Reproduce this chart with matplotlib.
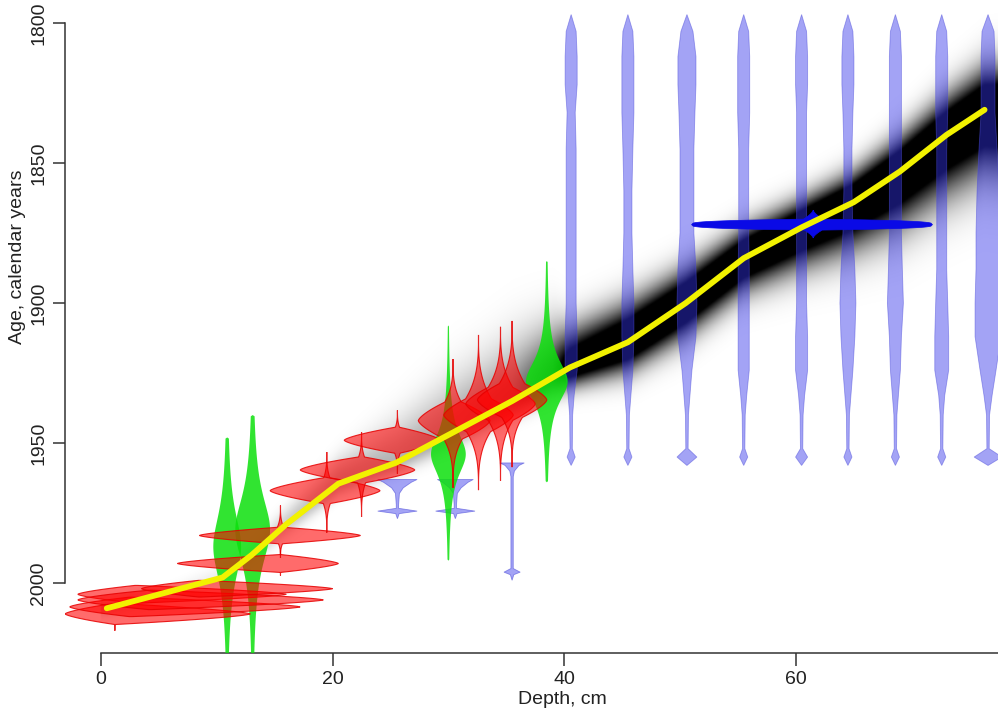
import matplotlib
matplotlib.use("Agg")
import matplotlib.pyplot as plt
import numpy as np
from matplotlib.patches import Polygon, Rectangle

plt.rcParams['font.family'] = ['Liberation Sans', 'DejaVu Sans']

# mean age-depth model (yellow line)
model_depth = [0.5, 10.5, 13, 16, 20.5, 25.5, 30.5, 35.5, 40.5, 45.5, 50.5, 55.5, 60.5, 65, 69, 73, 76.3]
model_age = [2009, 1998, 1990, 1979, 1964.5, 1957, 1946, 1935, 1923, 1914, 1900, 1884, 1873, 1864, 1853, 1840, 1831]

# spread of the model cloud (years, older side / younger side) and its darkness
cloud_depth = [0, 2, 6, 10.5, 16, 20.5, 25.5, 30.5, 35.5, 39, 40.5, 45.5, 50.5, 55.5, 60.5, 65, 69, 73, 77.5]
cloud_sd_old = [2, 2, 2, 3, 4, 6, 10, 13, 14, 12, 9, 9, 8, 7, 6.5, 7, 8, 9, 10]
cloud_sd_young = [2, 2, 2, 2, 3, 3, 3, 4, 4, 4.5, 5, 7, 8, 8, 9.5, 11, 13, 14, 15]
cloud_shade = [0.2, 0.15, 0.03, 0.08, 0.2, 0.3, 0.3, 0.35, 0.45, 0.8, 1.3, 1.5, 1.5, 1.5, 1.5, 1.5, 1.5, 1.5, 1.5]

# red dates: centre depth/age, arm lengths (cm), arm thickness, spike up/down (yr), spike width (cm)
red_depth = [1.2, 2.5, 3.0, 4.2, 8.5, 15.5, 15.5, 19.5, 22.5, 25.6, 30.4, 32.6, 34.5, 35.5]
red_age = [2011, 2008.5, 2004, 2006, 2002, 1993, 1983, 1967, 1959.6, 1949, 1942, 1940, 1936, 1934.6]
red_left = [4.3, 5.2, 5.0, 6.2, 5.0, 8.9, 7.0, 4.9, 5.3, 4.6, 3.0, 3.0, 3.0, 3.0]
red_right = [11.7, 14.7, 13.0, 15.0, 11.5, 5.0, 6.9, 4.6, 4.6, 3.7, 3.2, 3.0, 3.0, 3.0]
red_thick = [3.8, 3.5, 3.2, 3.5, 3.0, 3.2, 3.0, 4.8, 4.8, 4.8, 8.0, 8.0, 8.0, 8.0]
red_up = [3.5, 3.5, 3.2, 3.5, 3.0, 4.6, 10.7, 13.8, 13.5, 10.7, 22, 28.6, 27.5, 28.2]
red_down = [6, 3.5, 3.2, 3.5, 3.0, 4.3, 8, 15, 16.8, 12, 24, 26.8, 27.5, 24]
red_spike = [0.6, 0.6, 0.6, 0.6, 0.6, 0.7, 0.7, 0.9, 0.9, 1.0, 2.1, 2.2, 2.2, 2.2]

# green dates: depth, peak age, half width (cm), spread, top and bottom age
green_depth = [10.9, 13.1, 30.0, 38.5]
green_peak = [1987, 1981, 1954, 1928]
green_width = [1.2, 1.5, 1.5, 1.8]
green_spread = [16, 16, 10, 10]
green_top = [1948, 1940, 1908, 1885]
green_bottom = [2030, 2030, 1992, 1964]

# light blue (post-bomb) calibrated dates, shared age grid, half widths in cm
blue_depth = [40.6, 45.5, 50.6, 55.5, 60.5, 64.5, 68.6, 72.6, 76.6]
blue_ages = [1797, 1803, 1812, 1822, 1832, 1845, 1860, 1875, 1888, 1900, 1912, 1924, 1933, 1940, 1952, 1955, 1958]
blue_width = [
    [0, 0.43, 0.52, 0.52, 0.35, 0.43, 0.43, 0.43, 0.43, 0.43, 0.52, 0.52, 0.26, 0.13, 0.1, 0.35, 0],
    [0, 0.43, 0.52, 0.52, 0.52, 0.43, 0.35, 0.35, 0.43, 0.52, 0.52, 0.43, 0.26, 0.13, 0.1, 0.35, 0],
    [0, 0.52, 0.78, 0.78, 0.69, 0.6, 0.6, 0.6, 0.78, 0.86, 0.78, 0.43, 0.26, 0.13, 0.1, 0.86, 0],
    [0, 0.43, 0.52, 0.52, 0.52, 0.43, 0.43, 0.43, 0.48, 0.48, 0.48, 0.48, 0.26, 0.13, 0.1, 0.35, 0],
    [0, 0.43, 0.52, 0.52, 0.43, 0.43, 0.43, 0.43, 0.43, 0.43, 0.52, 0.52, 0.26, 0.13, 0.1, 0.52, 0],
    [0, 0.43, 0.52, 0.52, 0.43, 0.35, 0.35, 0.43, 0.6, 0.69, 0.6, 0.43, 0.26, 0.13, 0.1, 0.35, 0],
    [0, 0.43, 0.52, 0.52, 0.52, 0.52, 0.52, 0.52, 0.6, 0.69, 0.52, 0.43, 0.26, 0.13, 0.1, 0.35, 0],
    [0, 0.43, 0.52, 0.52, 0.52, 0.43, 0.43, 0.43, 0.43, 0.52, 0.6, 0.6, 0.26, 0.13, 0.1, 0.35, 0],
    [0, 0.52, 0.6, 0.6, 0.6, 0.78, 0.95, 1.04, 1.04, 1.12, 1.12, 0.69, 0.35, 0.13, 0.1, 1.2, 0],
]

# small light blue dates (truncated at the top)
tblue_depth = [25.6, 30.6, 35.5]
tblue_ages = [
    [1963, 1964, 1966, 1968, 1972, 1973.3, 1974.3, 1975.2, 1977],
    [1963, 1964, 1966, 1968, 1972, 1973.3, 1974.3, 1975.2, 1977],
    [1957.1, 1958, 1960, 1962, 1993, 1994.8, 1996.1, 1997, 1999],
]
tblue_width = [
    [1.7, 1.2, 0.5, 0.17, 0.1, 0.1, 1.7, 0.15, 0],
    [1.55, 1.1, 0.5, 0.17, 0.1, 0.1, 1.7, 0.15, 0],
    [1.05, 0.6, 0.2, 0.1, 0.1, 0.1, 0.7, 0.15, 0],
]

# dark blue date
dblue = dict(depth=61.5, age=1872, left=10.5, right=10.3, thick=2.0, up=5.2, down=4.8, spike=1.7)


def star(dc, ac, left, right, thick, up, down, spike, p=0.7, q=3.0, n=80):
    def quad(reach, tall):
        r = np.linspace(reach, 0, n)
        u_arm = thick * (1 - r / reach) ** p
        keep_a = r > spike * np.clip(1 - u_arm / tall, 0, 1) ** q
        u = np.linspace(0, tall, n)
        r_sp = spike * (1 - u / tall) ** q
        keep_s = u > thick * np.clip(1 - r_sp / reach, 0, 1) ** p
        return (np.concatenate([r[keep_a], r_sp[keep_s]]),
                np.concatenate([u_arm[keep_a], u[keep_s]]))
    r1, u1 = quad(right, up)
    r2, u2 = quad(left, up)
    r3, u3 = quad(left, down)
    r4, u4 = quad(right, down)
    xs = np.concatenate([dc + r1, dc - r2[::-1], dc - r3, dc + r4[::-1]])
    ys = np.concatenate([ac - u1, ac - u2[::-1], ac + u3, ac + u4[::-1]])
    return np.column_stack([xs, ys])


def vviolin(d, ages, hw):
    ages = np.asarray(ages, float)
    hw = np.asarray(hw, float)
    xs = np.concatenate([d + hw, (d - hw)[::-1]])
    ys = np.concatenate([ages, ages[::-1]])
    return np.column_stack([xs, ys])


fig = plt.figure(figsize=(9.98, 7.15), dpi=100)
ax = fig.add_axes([0, 0, 1, 1])
ax.set_xlim(-8.72, 77.46)
ax.set_ylim(2047.1, 1791.8)

clip = Rectangle((-3.1, 1785), 90, 2025 - 1785, transform=ax.transData)

# grey cloud of age-depth iterations
gd = np.linspace(-3.1, 77.5, 700)
ga = np.linspace(1785, 2025, 800)
D, A = np.meshgrid(gd, ga)
mean = np.interp(D, model_depth, model_age)
sd = np.where(A < mean, np.interp(D, cloud_depth, cloud_sd_old), np.interp(D, cloud_depth, cloud_sd_young))
shade = np.interp(D, cloud_depth, cloud_shade, left=0)
inten = np.clip(shade * np.exp(-0.5 * ((A - mean) / sd) ** 2), 0, 1)
rgba = np.zeros(D.shape + (4,))
rgba[..., 3] = inten
im = ax.imshow(rgba, extent=(gd[0], gd[-1], ga[-1], ga[0]), origin='upper',
               aspect='auto', interpolation='bilinear', zorder=1)
im.set_clip_path(clip)

# light blue calibrated dates
for d, hw in zip(blue_depth, blue_width):
    pg = Polygon(vviolin(d, blue_ages, hw), closed=True, facecolor=(0.2, 0.2, 0.92, 0.45),
                 edgecolor=(0.3, 0.3, 0.85, 0.5), linewidth=0.6, zorder=2)
    ax.add_patch(pg)
    pg.set_clip_path(clip)
for d, ag, hw in zip(tblue_depth, tblue_ages, tblue_width):
    pg = Polygon(vviolin(d, ag, hw), closed=True, facecolor=(0.2, 0.2, 0.92, 0.45),
                 edgecolor=(0.3, 0.3, 0.85, 0.6), linewidth=0.6, zorder=2)
    ax.add_patch(pg)
    pg.set_clip_path(clip)

# dark blue date
pg = Polygon(star(dblue['depth'], dblue['age'], dblue['left'], dblue['right'], dblue['thick'],
                  dblue['up'], dblue['down'], dblue['spike'], p=0.3, q=1.5),
             closed=True, facecolor='#0a0ae6', edgecolor='#0a0ae6', linewidth=0.5, zorder=3)
ax.add_patch(pg)

# green dates
for d, pk, w, s, top, bot in zip(green_depth, green_peak, green_width, green_spread, green_top, green_bottom):
    ag = np.linspace(top, bot, 200)
    hw = w / (1 + ((ag - pk) / s) ** 2) ** 1.1
    hw[0] = 0
    hw[-1] = 0
    pg = Polygon(vviolin(d, ag, hw), closed=True, facecolor=(0.05, 0.88, 0.05, 0.85),
                 edgecolor='none', zorder=4)
    ax.add_patch(pg)
    pg.set_clip_path(clip)

# red dates
for i in range(len(red_depth)):
    pts = star(red_depth[i], red_age[i], red_left[i], red_right[i], red_thick[i],
               red_up[i], red_down[i], red_spike[i])
    pg = Polygon(pts, closed=True, facecolor=(1, 0, 0, 0.58), edgecolor=(0.9, 0, 0, 0.85),
                 linewidth=0.8, zorder=5)
    ax.add_patch(pg)
    pg.set_clip_path(clip)

ax.plot(model_depth, model_age, color='#f2f200', linewidth=4.2, solid_capstyle='round', zorder=6)

# axes in R style
for s in ['top', 'right']:
    ax.spines[s].set_visible(False)
ax.spines['left'].set_position(('data', -3.1))
ax.spines['left'].set_bounds(1800, 2000)
ax.spines['bottom'].set_position(('data', 2025))
ax.spines['bottom'].set_bounds(0, 80)
for s in ['left', 'bottom']:
    ax.spines[s].set_linewidth(1.1)
    ax.spines[s].set_color('#333333')
ax.set_xticks([0, 20, 40, 60])
ax.set_yticks([1800, 1850, 1900, 1950, 2000])
ax.tick_params(direction='out', length=9, width=1.1, color='#333333', labelcolor='#222222',
               labelsize=14, pad=4)
for lab in ax.get_yticklabels():
    lab.set_rotation(90)
    lab.set_va('center')

fig.text(562 / 998, 1 - 700 / 715, 'Depth, cm', ha='center', va='center', fontsize=14, color='#222222')
fig.text(18 / 998, 1 - 257 / 715, 'Age, calendar years', ha='center', va='center', rotation=90,
         fontsize=14, color='#222222')

fig.savefig('out.png', dpi=100)
